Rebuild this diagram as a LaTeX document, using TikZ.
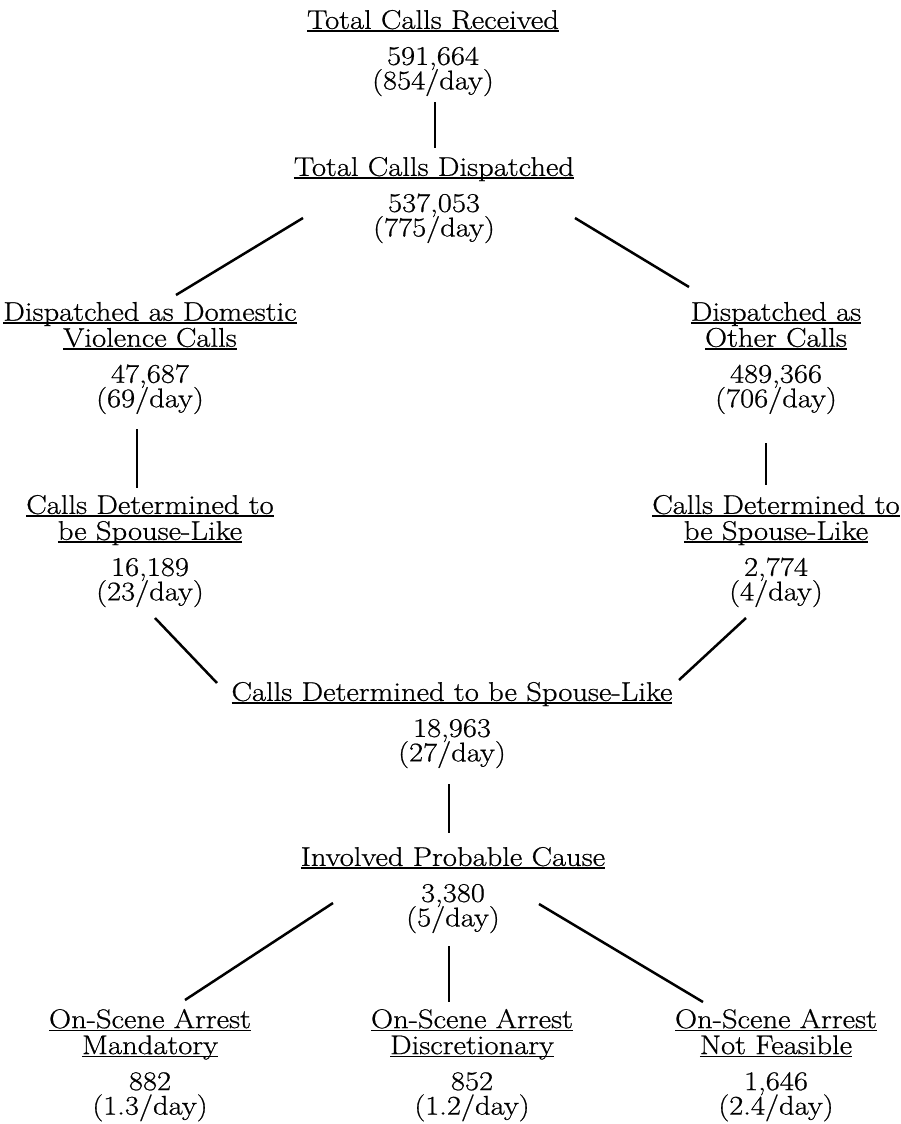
\documentclass[tikz,border=0pt]{standalone}
\usepackage{fontspec}
\setmainfont{Latin Modern Roman}[FakeStretch=1.134,FakeBold=0.7]
\newcommand{\ulin}[1]{\setbox0=\hbox{#1}\rlap{\rule[-2.8pt]{\wd0}{1.4pt}}\box0}
\tikzset{
  blk/.style={anchor=north, inner sep=0pt, align=center,
    font=\fontsize{27}{26}\selectfont,
    execute at begin node={\lineskiplimit=-50pt\strut}},
  conn/.style={line width=2.5pt, black}
}
\begin{document}
\begin{tikzpicture}[x=1pt,y=-1pt]
\useasboundingbox (0,0) rectangle (901,1124);
% blocks
\node[blk] (recv) at (433,9.8) {\ulin{Total Calls Received}\\[10pt]591,664\\[-1.5pt](854/day)};
\node[blk] (disp) at (434,156.8) {\ulin{Total Calls Dispatched}\\[10pt]537,053\\[-1.5pt](775/day)};
\node[blk] (dv) at (150,301.8) {\ulin{Dispatched as Domestic}\\\ulin{Violence Calls}\\[10pt]47,687\\[-1.5pt](69/day)};
\node[blk] (oth) at (776,301.8) {\ulin{Dispatched as}\\\ulin{Other Calls}\\[10pt]489,366\\[-1.5pt](706/day)};
\node[blk] (spl) at (150,494.8) {\ulin{Calls Determined to}\\\ulin{be Spouse-Like}\\[10pt]16,189\\[-1.5pt](23/day)};
\node[blk] (spr) at (776,494.8) {\ulin{Calls Determined to}\\\ulin{be Spouse-Like}\\[10pt]2,774\\[-1.5pt](4/day)};
\node[blk] (spc) at (452,681.8) {\ulin{Calls Determined to be Spouse-Like}\\[10pt]18,963\\[-1.5pt](27/day)};
\node[blk] (ipc) at (453,846.8) {\ulin{Involved Probable Cause}\\[10pt]3,380\\[-1.5pt](5/day)};
\node[blk] (osm) at (150,1008.8) {\ulin{On-Scene Arrest}\\\ulin{Mandatory}\\[10pt]882\\[-1.5pt](1.3/day)};
\node[blk] (osd) at (472,1008.8) {\ulin{On-Scene Arrest}\\\ulin{Discretionary}\\[10pt]852\\[-1.5pt](1.2/day)};
\node[blk] (osn) at (776,1008.8) {\ulin{On-Scene Arrest}\\\ulin{Not Feasible}\\[10pt]1,646\\[-1.5pt](2.4/day)};
% connector end points
\coordinate (recv-s) at (435,102);  \coordinate (disp-n) at (435,148);
\coordinate (disp-sw) at (303,218); \coordinate (dv-n) at (176,295);
\coordinate (disp-se) at (575,218); \coordinate (oth-n) at (689,287);
\coordinate (dv-s) at (137,429);    \coordinate (spl-n) at (137,488);
\coordinate (oth-s) at (766,443);   \coordinate (spr-n) at (766,485);
\coordinate (spl-s) at (155,618);   \coordinate (spc-nw) at (217,683);
\coordinate (spr-s) at (746,618);   \coordinate (spc-ne) at (679,680);
\coordinate (spc-s) at (449,784);   \coordinate (ipc-n) at (449,833);
\coordinate (ipc-sw) at (333,903);  \coordinate (osm-n) at (185,1000);
\coordinate (ipc-s) at (449,946);   \coordinate (osd-n) at (449,1002);
\coordinate (ipc-se) at (539,904);  \coordinate (osn-n) at (703,1002);
% connectors
\draw[conn] (recv-s) -- (disp-n);
\draw[conn] (disp-sw) -- (dv-n);
\draw[conn] (disp-se) -- (oth-n);
\draw[conn] (dv-s) -- (spl-n);
\draw[conn] (oth-s) -- (spr-n);
\draw[conn] (spl-s) -- (spc-nw);
\draw[conn] (spr-s) -- (spc-ne);
\draw[conn] (spc-s) -- (ipc-n);
\draw[conn] (ipc-sw) -- (osm-n);
\draw[conn] (ipc-s) -- (osd-n);
\draw[conn] (ipc-se) -- (osn-n);
\end{tikzpicture}
\end{document}
